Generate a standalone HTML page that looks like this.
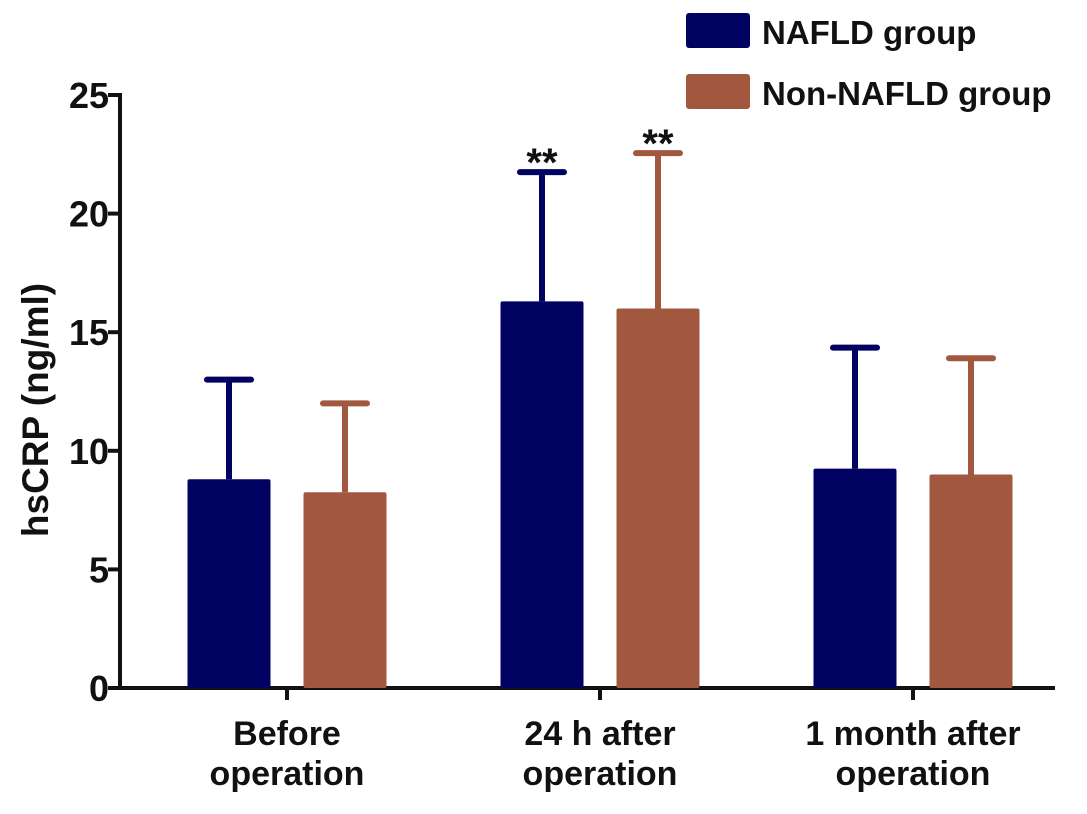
<!DOCTYPE html>
<html><head><meta charset="utf-8"><style>
html,body{margin:0;padding:0;background:#fff;}
svg text{font-family:"Liberation Sans",Arial,sans-serif;font-weight:bold;fill:#111;}
</style></head><body>
<svg id="chart" width="1087" height="809" viewBox="0 0 1087 809" xmlns="http://www.w3.org/2000/svg">
<g id="legend">
  <rect x="686" y="13" width="64" height="35" rx="3" fill="#020262"/>
  <text x="762" y="44" font-size="33">NAFLD group</text>
  <rect x="686" y="74" width="64" height="35" rx="3" fill="#a2583f"/>
  <text x="762" y="105" font-size="33">Non-NAFLD group</text>
</g>
<text transform="translate(48,410) rotate(-90)" text-anchor="middle" font-size="37">hsCRP (ng/ml)</text>
<g id="plot"></g>
</svg>
<script>
const categories = [["Before","operation"],["24 h after","operation"],["1 month after","operation"]];
const nafldMeans = [8.8, 16.3, 9.25];
const nafldUpper = [13.0, 21.75, 14.35];
const nonMeans = [8.25, 16.0, 9.0];
const nonUpper = [12.0, 22.55, 13.9];
const nafldMarks = ["", "**", ""];
const nonMarks = ["", "**", ""];
const yTicks = [0,5,10,15,20,25];

const NS="http://www.w3.org/2000/svg";
const plot=document.getElementById('plot');
const x0=120, x1=1055, yBase=688, yTop=95, yMax=25;
const y=v=>yBase-(v/yMax)*(yBase-yTop);
const groupX=i=>287+i*313;
function mk(tag,attrs){const e=document.createElementNS(NS,tag);for(const k in attrs)e.setAttribute(k,attrs[k]);plot.appendChild(e);return e;}

let ax=mk('line',{x1:x0,y1:yTop-2,x2:x0,y2:yBase+2,stroke:'#111','stroke-width':4});


let bx=mk('line',{x1:x0-2,y1:yBase,x2:x1,y2:yBase,stroke:'#111','stroke-width':4});



yTicks.forEach(t=>{
  const tk=mk('line',{x1:x0-12,y1:y(t),x2:x0,y2:y(t),stroke:'#111','stroke-width':4});
  
  
  const lb=mk('text',{x:x0-11,y:y(t)+13,'text-anchor':'end','font-size':36});
  lb.textContent=t;
  
  
});

const bw=83, off=58;
function bar(i,mean,upper,color,name,mark){
  const cx=groupX(i)+off*(name==='nafld'?-1:1);
  const eb=mk('line',{x1:cx,y1:y(upper),x2:cx,y2:y(mean),stroke:color,'stroke-width':6});
  
  
  const cap=mk('line',{x1:cx-22,y1:y(upper),x2:cx+22,y2:y(upper),stroke:color,'stroke-width':6,'stroke-linecap':'round'});
  
  
  const r=mk('rect',{x:cx-bw/2,y:y(mean),width:bw,height:yBase-y(mean),fill:color,rx:2});
  
  
  if(mark){
    const s=mk('text',{x:cx,y:y(upper)+4,'text-anchor':'middle','font-size':40});
    s.textContent=mark;
    
    
  }
}
categories.forEach((c,i)=>{
  bar(i,nafldMeans[i],nafldUpper[i],'#020262','nafld',nafldMarks[i]);
  bar(i,nonMeans[i],nonUpper[i],'#a2583f','non-nafld',nonMarks[i]);
  const tk=mk('line',{x1:groupX(i),y1:yBase,x2:groupX(i),y2:yBase+12,stroke:'#111','stroke-width':4});
  
  
  c.forEach((line,j)=>{
    const t=mk('text',{x:groupX(i),y:745+j*40,'text-anchor':'middle','font-size':34});
    t.textContent=line;
    
    
  });
});
</script>
</body></html>
